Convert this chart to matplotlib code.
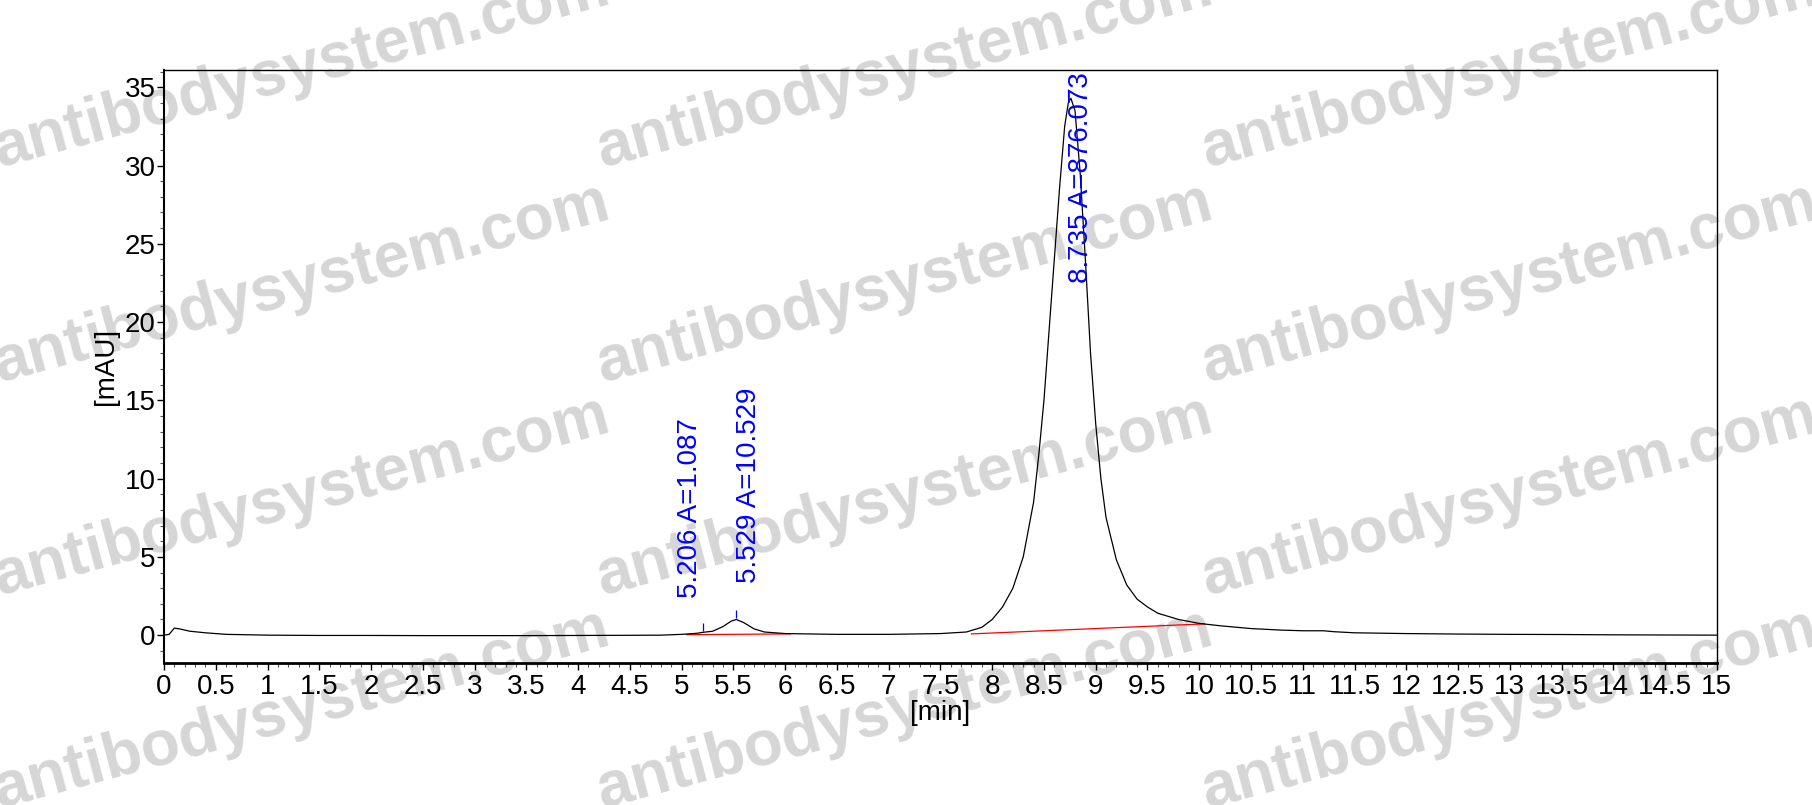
import matplotlib
matplotlib.use("Agg")
import matplotlib.pyplot as plt
from matplotlib.ticker import MultipleLocator

plt.rcParams['font.family'] = ['Liberation Sans', 'DejaVu Sans']

# chromatogram trace: retention time [min] -> signal [mAU]
time_min = [0.0, 0.05, 0.1, 0.15, 0.25, 0.4, 0.6, 1.0, 1.5, 2.0, 2.5, 3.0, 3.5, 4.0,
            4.5, 4.8, 5.0, 5.15, 5.206, 5.3, 5.4, 5.48, 5.529, 5.6, 5.7, 5.8, 6.0,
            6.5, 7.0, 7.5, 7.75, 7.9, 8.0, 8.1, 8.2, 8.3, 8.4, 8.45, 8.5, 8.55, 8.6,
            8.65, 8.7, 8.735, 8.76, 8.8, 8.85, 8.9, 8.95, 9.0, 9.05, 9.1, 9.2, 9.3,
            9.4, 9.5, 9.6, 9.8, 10.0, 10.2, 10.5, 10.8, 11.0, 11.2, 11.3, 11.5, 12.0,
            12.5, 13.0, 13.5, 14.0, 14.5, 15.0]
signal_mau = [0.0, 0.05, 0.45, 0.4, 0.25, 0.15, 0.05, 0.0, -0.02, -0.02, -0.03, -0.03,
              -0.03, -0.02, -0.01, 0.0, 0.05, 0.12, 0.18, 0.25, 0.55, 0.9, 1.0, 0.8,
              0.4, 0.2, 0.1, 0.05, 0.05, 0.1, 0.2, 0.5, 1.0, 1.8, 3.0, 5.0, 8.5, 11.5,
              15.0, 19.5, 24.0, 28.5, 32.5, 34.0, 34.3, 33.5, 29.5, 24.0, 18.0, 13.5,
              10.0, 7.5, 4.8, 3.2, 2.3, 1.8, 1.4, 1.0, 0.75, 0.6, 0.42, 0.32, 0.28,
              0.28, 0.22, 0.15, 0.1, 0.07, 0.05, 0.04, 0.02, 0.01, 0.0]

# integrated peaks
peak_rt = [5.206, 5.529, 8.735]
peak_area = ['1.087', '10.529', '876.073']
peak_height = [0.18, 1.0, 34.3]

# integration baselines (start time, start value, end time, end value)
base_t0 = [5.05, 7.8]
base_y0 = [0.03, 0.08]
base_t1 = [6.05, 10.05]
base_y1 = [0.08, 0.72]

fig = plt.figure(figsize=(18.12, 8.05), dpi=100)

# watermark, behind everything
for wx in [0.166, 0.499, 0.833]:
    for wy in [0.914, 0.648, 0.383, 0.118]:
        fig.text(wx, wy, 'antibodysystem.com', fontsize=46, fontweight='bold',
                 color='#d6d6d6', rotation=15, ha='center', va='center',
                 rotation_mode='anchor', zorder=0)

ax = fig.add_axes([0.0905, 0.176, 0.857, 0.737])
ax.set_zorder(2)
ax.patch.set_alpha(0)

ax.plot(time_min, signal_mau, color='black', lw=0.9, zorder=3)
for t0, y0, t1, y1 in zip(base_t0, base_y0, base_t1, base_y1):
    ax.plot([t0, t1], [y0, y1], color='red', lw=0.9, zorder=2)

for i, (rt, area, h) in enumerate(zip(peak_rt, peak_area, peak_height)):
    label = f'{rt:.3f} A={area}'
    ax.vlines(rt, h + 0.1, h + 0.6, color='blue', lw=0.9, zorder=3)
    if i == 0:
        ax.text(rt, h + 2.2, label, rotation=90, color='blue', fontsize=20,
                ha='right', va='bottom')
    elif i == 1:
        ax.text(rt, h + 2.3, label, rotation=90, color='blue', fontsize=20,
                ha='left', va='bottom')
    else:
        ax.text(rt, 35.95, label, rotation=90, color='blue', fontsize=20,
                ha='left', va='top')

ax.set_xlim(0, 15)
ax.set_ylim(-1.8, 36.1)
ax.xaxis.set_major_locator(MultipleLocator(0.5))
ax.xaxis.set_minor_locator(MultipleLocator(0.1))
ax.yaxis.set_major_locator(MultipleLocator(5))
ax.yaxis.set_minor_locator(MultipleLocator(1))
ax.set_yticks([0, 5, 10, 15, 20, 25, 30, 35])
ax.set_xticklabels([f'{v:g}' for v in ax.get_xticks()])

ax.tick_params(which='major', direction='out', length=5, width=1, labelsize=20, pad=3)
ax.tick_params(which='minor', direction='out', length=3, width=0.8, color='#555555')
ax.tick_params(axis='y', pad=1)

for s in ax.spines.values():
    s.set_linewidth(1)
ax.spines['bottom'].set_linewidth(2)
ax.spines['left'].set_linewidth(1.5)

ax.set_xlabel('[min]', fontsize=20, labelpad=0)
ax.set_ylabel('[mAU]', fontsize=20, labelpad=4)

fig.savefig('out.png', dpi=100)
